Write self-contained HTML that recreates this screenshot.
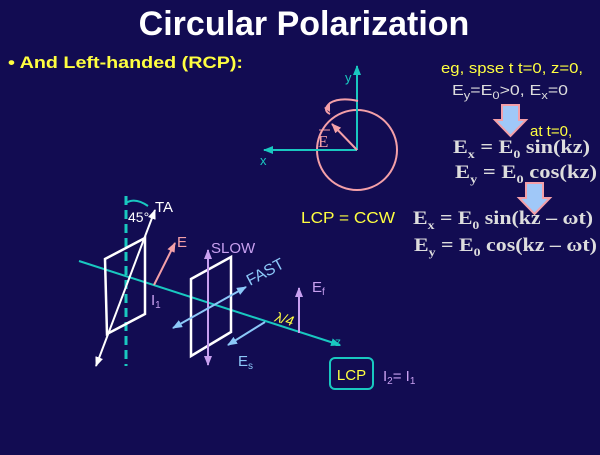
<!DOCTYPE html><html><head><style>body{margin:0;width:600px;height:450px;background:#120c52;overflow:hidden}</style></head><body>
<svg width="600" height="450" xmlns="http://www.w3.org/2000/svg" font-family="Liberation Sans, sans-serif">
<defs>
<marker id="c" markerWidth="10" markerHeight="8" refX="9" refY="4" orient="auto" markerUnits="userSpaceOnUse"><path d="M0,0L10,4L0,8z" fill="#19c8c0"/></marker>
<marker id="w" markerWidth="10" markerHeight="8" refX="9" refY="4" orient="auto-start-reverse" markerUnits="userSpaceOnUse"><path d="M0,0L10,4L0,8z" fill="#fff"/></marker>
<marker id="p" markerWidth="10" markerHeight="8" refX="9" refY="4" orient="auto" markerUnits="userSpaceOnUse"><path d="M0,0L10,4L0,8z" fill="#f4a0a8"/></marker>
<marker id="l" markerWidth="10" markerHeight="8" refX="9" refY="4" orient="auto-start-reverse" markerUnits="userSpaceOnUse"><path d="M0,0L10,4L0,8z" fill="#c8a0f0"/></marker>
<marker id="b" markerWidth="10" markerHeight="8" refX="9" refY="4" orient="auto-start-reverse" markerUnits="userSpaceOnUse"><path d="M0,0L10,4L0,8z" fill="#8cc8f8"/></marker>
</defs>
<text x="304" y="35" text-anchor="middle" fill="#fff" font-weight="bold" font-size="34">Circular Polarization</text>
<text x="8" y="68" fill="#ffff40" font-weight="bold" font-size="17" textLength="235" lengthAdjust="spacingAndGlyphs">•  And Left-handed (RCP):</text>
<text x="441" y="73" fill="#ffff40" font-size="15" textLength="142" lengthAdjust="spacingAndGlyphs">eg, spse t t=0, z=0,</text>
<text x="452" y="95" fill="#ddd" font-size="15" textLength="116" lengthAdjust="spacingAndGlyphs">E<tspan font-size="11" dy="4">y</tspan><tspan dy="-4">=E</tspan><tspan font-size="11" dy="4">0</tspan><tspan dy="-4">&gt;0,   E</tspan><tspan font-size="11" dy="4">x</tspan><tspan dy="-4">=0</tspan></text>
<path d="M502,105h17v15h7l-15.5,16l-15.5,-16h7z" fill="#a0c8f8" stroke="#f4a0a8" stroke-width="2"/>
<path d="M526,183h17v15h7l-15.5,16l-15.5,-16h7z" fill="#a0c8f8" stroke="#f4a0a8" stroke-width="2"/>
<text x="530" y="136" fill="#ffff40" font-size="15">at t=0,</text>
<g fill="#ddd" font-family="Liberation Serif, serif" font-weight="bold" font-size="19">
<text x="453" y="153" textLength="137" lengthAdjust="spacingAndGlyphs">E<tspan font-size="12" dy="5">x</tspan><tspan dy="-5"> = E</tspan><tspan font-size="12" dy="5">0</tspan><tspan dy="-5"> sin(kz)</tspan></text>
<text x="455" y="178" textLength="142" lengthAdjust="spacingAndGlyphs">E<tspan font-size="12" dy="5">y</tspan><tspan dy="-5"> = E</tspan><tspan font-size="12" dy="5">0</tspan><tspan dy="-5"> cos(kz)</tspan></text>
<text x="413" y="224" textLength="180" lengthAdjust="spacingAndGlyphs">E<tspan font-size="12" dy="5">x</tspan><tspan dy="-5"> = E</tspan><tspan font-size="12" dy="5">0</tspan><tspan dy="-5"> sin(kz – ωt)</tspan></text>
<text x="414" y="251" textLength="183" lengthAdjust="spacingAndGlyphs">E<tspan font-size="12" dy="5">y</tspan><tspan dy="-5"> = E</tspan><tspan font-size="12" dy="5">0</tspan><tspan dy="-5"> cos(kz – ωt)</tspan></text>
</g>
<text x="301" y="223" fill="#ffff40" font-size="16" textLength="94" lengthAdjust="spacingAndGlyphs">LCP = CCW</text>
<circle cx="357" cy="150" r="40" fill="none" stroke="#f4a0a8" stroke-width="2"/>
<line x1="357" y1="150" x2="357" y2="66" stroke="#19c8c0" stroke-width="2" marker-end="url(#c)"/>
<line x1="357" y1="150" x2="264" y2="150" stroke="#19c8c0" stroke-width="2" marker-end="url(#c)"/>
<text x="345" y="82" fill="#19c8c0" font-size="13">y</text>
<text x="260" y="165" fill="#19c8c0" font-size="13">x</text>
<line x1="357" y1="150" x2="332" y2="124" stroke="#f4a0a8" stroke-width="2" marker-end="url(#p)"/>
<text x="318" y="147" fill="#f4a0a8" font-family="Liberation Serif, serif" font-size="17">E</text>
<line x1="319" y1="130" x2="330" y2="130" stroke="#f4a0a8" stroke-width="1"/>
<path d="M358,101 Q340,97 330,103 Q322,110 330,114" fill="none" stroke="#f4a0a8" stroke-width="2"/>
<path d="M324,108l6,-4l0,8z" fill="#f4a0a8"/>
<line x1="79" y1="261" x2="340" y2="345" stroke="#19c8c0" stroke-width="2" marker-end="url(#c)"/>
<text x="335" y="346" fill="#19c8c0" font-size="12">z</text>
<line x1="126" y1="196" x2="126" y2="366" stroke="#19c8c0" stroke-width="3" stroke-dasharray="9,5"/>
<path d="M126,203 Q135,197 148,206" fill="none" stroke="#19c8c0" stroke-width="2"/>
<path d="M105,259L145,238L145,314L107,334Z" fill="none" stroke="#fff" stroke-width="2.5"/>
<line x1="96" y1="366" x2="155" y2="210" stroke="#fff" stroke-width="2" marker-start="url(#w)" marker-end="url(#w)"/>
<text x="128" y="222" fill="#fff" font-size="14">45°</text>
<text x="155" y="212" fill="#fff" font-size="15">TA</text>
<line x1="154" y1="285" x2="175" y2="243" stroke="#f4a0a8" stroke-width="2" marker-end="url(#p)"/>
<text x="177" y="247" fill="#f4a0a8" font-size="15">E</text>
<text x="151" y="305" fill="#c8a0f0" font-size="15">I<tspan font-size="10" dy="3">1</tspan></text>
<path d="M191,279L231,257L231,332L191,356Z" fill="none" stroke="#fff" stroke-width="2.5"/>
<line x1="208" y1="365" x2="208" y2="250" stroke="#c8a0f0" stroke-width="2" marker-start="url(#l)" marker-end="url(#l)"/>
<text x="211" y="253" fill="#c8a0f0" font-size="15">SLOW</text>
<line x1="173" y1="328" x2="246" y2="287" stroke="#8cc8f8" stroke-width="2" marker-start="url(#b)" marker-end="url(#b)"/>
<text x="0" y="0" fill="#8cc8f8" font-size="16" transform="translate(250,286) rotate(-28)">FAST</text>
<line x1="265" y1="322" x2="228" y2="345" stroke="#8cc8f8" stroke-width="2" marker-end="url(#b)"/>
<text x="238" y="366" fill="#8cc8f8" font-size="15">E<tspan font-size="10" dy="3">s</tspan></text>
<line x1="299" y1="333" x2="299" y2="288" stroke="#c8a0f0" stroke-width="2" marker-end="url(#l)"/>
<text x="312" y="292" fill="#c8a0f0" font-size="15">E<tspan font-size="10" dy="3">f</tspan></text>
<text x="275" y="324" fill="#ffff40" font-size="14" font-style="italic" transform="rotate(15 285 320)">λ/4</text>
<rect x="330" y="358" width="43" height="31" rx="5" fill="none" stroke="#19c8c0" stroke-width="2"/>
<text x="351.5" y="380" text-anchor="middle" fill="#ffff40" font-size="15">LCP</text>
<text x="383" y="381" fill="#c8a0f0" font-size="15">I<tspan font-size="10" dy="3">2</tspan><tspan dy="-3">= I</tspan><tspan font-size="10" dy="3">1</tspan></text>
</svg>
</body></html>
